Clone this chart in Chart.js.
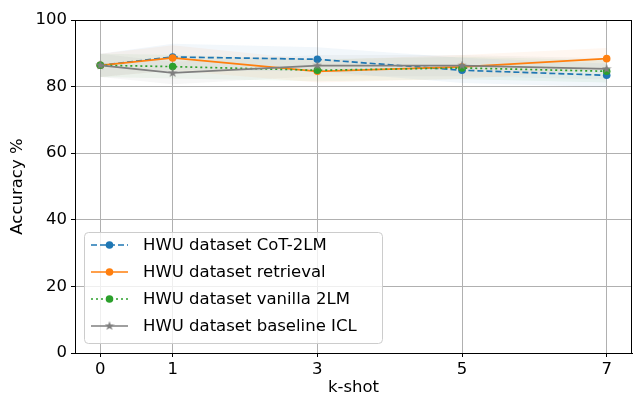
<!DOCTYPE html>
<html>
<head>
    <meta charset="UTF-8">
    <script src="https://cdn.jsdelivr.net/npm/chart.js@4.4.1/dist/chart.umd.min.js"></script>
    <title>HWU k-shot accuracy</title>
    <style>
        body { margin: 0; background: #fff; }
    </style>
</head>
<body>
    <canvas id="myChart" width="633" height="396"></canvas>
    <script type="text/javascript">
        // k-shot values and accuracy per method
        const kShots = [0, 1, 3, 5, 7];
        const cot2lm = [86.4, 88.9, 88.2, 84.9, 83.4];
        const retrieval = [86.4, 88.6, 84.6, 85.9, 88.4];
        const vanilla2lm = [86.4, 86.0, 84.9, 85.6, 84.6];
        const baselineIcl = [86.4, 84.1, 86.3, 86.3, 85.3];
        // spread around each line (shaded bands)
        const cot2lmStd = [3.5, 4.0, 3.6, 3.8, 3.5];
        const retrievalStd = [3.5, 3.8, 3.4, 3.6, 3.2];
        const vanilla2lmStd = [3.5, 3.6, 3.3, 3.4, 3.4];
        const baselineIclStd = [3.5, 3.4, 3.2, 3.2, 3.2];
        const yTicks = [0, 20, 40, 60, 80, 100];

        const FONT = 'DejaVu Sans';

        function starImage(color, size) {
            const c = document.createElement('canvas');
            c.width = size; c.height = size;
            const g = c.getContext('2d');
            const cx = size / 2, cy = size / 2, ro = size / 2, ri = ro * 0.4;
            g.beginPath();
            for (let i = 0; i < 10; i++) {
                const r = i % 2 === 0 ? ro : ri;
                const a = -Math.PI / 2 + i * Math.PI / 5;
                g.lineTo(cx + r * Math.cos(a), cy + r * Math.sin(a));
            }
            g.closePath();
            g.fillStyle = color;
            g.fill();
            return c;
        }

        const series = [
            { label: 'HWU dataset CoT-2LM', data: cot2lm, std: cot2lmStd, color: '#1f77b4', dash: [6, 3], marker: 'circle', order: 4 },
            { label: 'HWU dataset retrieval', data: retrieval, std: retrievalStd, color: '#ff7f0e', dash: [], marker: 'circle', order: 3 },
            { label: 'HWU dataset vanilla 2LM', data: vanilla2lm, std: vanilla2lmStd, color: '#2ca02c', dash: [2, 3], marker: 'circle', order: 2 },
            { label: 'HWU dataset baseline ICL', data: baselineIcl, std: baselineIclStd, color: '#7f7f7f', dash: [], marker: starImage('#7f7f7f', 10), order: 1 }
        ];

        function hexA(hex, a) {
            const n = parseInt(hex.slice(1), 16);
            return 'rgba(' + (n >> 16) + ',' + ((n >> 8) & 255) + ',' + (n & 255) + ',' + a + ')';
        }

        const datasets = [];
        series.forEach(function(s) {
            datasets.push({
                label: s.label + ' upper',
                data: kShots.map((k, i) => ({ x: k, y: s.data[i] + s.std[i] })),
                borderWidth: 0, pointRadius: 0, fill: '+1',
                backgroundColor: hexA(s.color, 0.06), order: 10
            });
            datasets.push({
                label: s.label + ' lower',
                data: kShots.map((k, i) => ({ x: k, y: s.data[i] - s.std[i] })),
                borderWidth: 0, pointRadius: 0, fill: false, order: 10
            });
        });
        series.forEach(function(s) {
            datasets.push({
                label: s.label,
                data: kShots.map((k, i) => ({ x: k, y: s.data[i] })),
                borderColor: s.color,
                backgroundColor: s.color,
                borderWidth: 1.7,
                borderDash: s.dash,
                pointStyle: s.marker,
                pointRadius: 3.8,
                pointBorderWidth: 0,
                fill: false,
                tension: 0,
                order: s.order
            });
        });

        // frame + legend inside the plot
        const framePlugin = {
            id: 'frame',
            afterDraw(chart) {
                const ctx = chart.ctx, a = chart.chartArea;
                ctx.save();
                ctx.strokeStyle = '#000';
                ctx.lineWidth = 1;
                ctx.strokeRect(a.left + 0.5, a.top + 0.5, a.right - a.left - 1, a.bottom - a.top);

                const bx = 84, by = 232, bw = 298, bh = 111;
                ctx.beginPath();
                ctx.roundRect(bx + 0.5, by + 0.5, bw, bh, 4);
                ctx.fillStyle = 'rgba(255,255,255,0.8)';
                ctx.fill();
                ctx.strokeStyle = '#cccccc';
                ctx.stroke();

                series.forEach(function(s, i) {
                    const y = 245 + i * 27;
                    ctx.beginPath();
                    ctx.setLineDash(s.dash);
                    ctx.strokeStyle = s.color;
                    ctx.lineWidth = 1.7;
                    ctx.moveTo(91, y);
                    ctx.lineTo(128, y);
                    ctx.stroke();
                    ctx.setLineDash([]);
                    if (s.marker === 'circle') {
                        ctx.beginPath();
                        ctx.arc(109.5, y, 3.8, 0, Math.PI * 2);
                        ctx.fillStyle = s.color;
                        ctx.fill();
                    } else {
                        ctx.drawImage(s.marker, 104.5, y - 5);
                    }
                    ctx.fillStyle = '#000';
                    ctx.font = '16.5px "' + FONT + '"';
                    ctx.textBaseline = 'middle';
                    ctx.textAlign = 'left';
                    ctx.fillText(s.label, 143, y + 1);
                });
                ctx.restore();
            }
        };

        const ctx = document.getElementById('myChart').getContext('2d');
        const myChart = new Chart(ctx, {
            type: 'line',
            data: { datasets: datasets },
            plugins: [framePlugin],
            options: {
                responsive: false,
                animation: false,
                layout: { autoPadding: false, padding: { top: 20, right: 1, left: 0, bottom: -2 } },
                plugins: { legend: { display: false }, tooltip: { enabled: false } },
                scales: {
                    x: {
                        type: 'linear',
                        min: -0.35,
                        max: 7.35,
                        afterBuildTicks: function(axis) {
                            axis.ticks = kShots.map(v => ({ value: v }));
                        },
                        afterFit: function(scale) {
                            scale.height = 45;
                        },
                        grid: { color: '#b0b0b0', lineWidth: 1, tickLength: 4, tickColor: '#000' },
                        border: { color: '#000', width: 1 },
                        ticks: { color: '#000', font: { family: FONT, size: 16.5 }, padding: 3, maxRotation: 0 },
                        title: { display: true, text: 'k-shot', color: '#000', font: { family: FONT, size: 16.5 }, padding: { top: 1, bottom: 0 } }
                    },
                    y: {
                        min: 0,
                        max: 100,
                        afterBuildTicks: function(axis) {
                            axis.ticks = yTicks.map(v => ({ value: v }));
                        },
                        afterFit: function(scale) {
                            scale.width = 75;
                        },
                        grid: { color: '#b0b0b0', lineWidth: 1, tickLength: 4, tickColor: '#000' },
                        border: { color: '#000', width: 1 },
                        ticks: { color: '#000', font: { family: FONT, size: 16.5 }, padding: 4 },
                        title: { display: true, text: 'Accuracy %', color: '#000', font: { family: FONT, size: 16.5 }, padding: { top: 8, bottom: 0 } }
                    }
                }
            }
        });
    </script>
</body>
</html>
